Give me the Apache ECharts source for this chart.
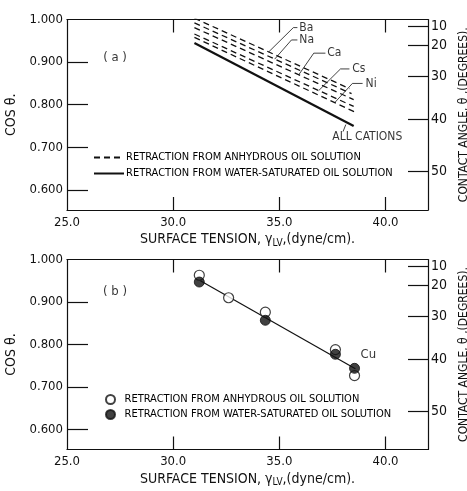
<!DOCTYPE html>
<html>
<head>
<meta charset="utf-8">
<script src="https://cdn.jsdelivr.net/npm/echarts@6/dist/echarts.min.js"></script>
<style>
html,body{margin:0;padding:0;background:#fff;}
#c{width:467px;height:491px;}
</style>
</head>
<body>
<div id="c"></div>
<script>
// ---------- data ----------
const xRange = [25, 42];
const yRange = [0.553, 1.0];
const xTickLabels = [25, 30, 35, 40];
const xTickMarks = [30, 35, 40];
const yTickLabels = [0.6, 0.7, 0.8, 0.9, 1.0];
const yTickMarks = [0.6, 0.7, 0.8, 0.9];
const angleTicks = [10, 20, 30, 40, 50];

// panel (a): dashed lines (anhydrous), one per cation: [x, cos]
const cations = ['Ba', 'Na', 'Ca', 'Cs', 'Ni'];
const lineBa = [[31.0, 1.003], [38.3, 0.838]];
const lineNa = [[31.0, 0.992], [38.4, 0.826]];
const lineCa = [[31.0, 0.981], [38.5, 0.812]];
const lineCs = [[31.0, 0.966], [38.5, 0.796]];
const lineNi = [[31.0, 0.958], [38.6, 0.782]];
// panel (a): solid line (water-saturated), all cations
const lineAll = [[31.0, 0.945], [38.5, 0.750]];

// annotation labels and leader lines, panel (a)
const labelPosA = [[35.94, 0.981], [35.94, 0.952], [37.25, 0.921], [38.43, 0.884], [39.06, 0.850]];
const leaderBa = [[35.85, 0.981], [35.66, 0.981], [34.50, 0.924]];
const leaderNa = [[35.85, 0.952], [35.57, 0.952], [34.78, 0.907]];
const leaderCa = [[37.17, 0.921], [36.62, 0.921], [35.91, 0.870]];
const leaderCs = [[38.30, 0.884], [37.88, 0.884], [36.85, 0.833]];
const leaderNi = [[38.92, 0.850], [38.44, 0.850], [37.61, 0.805]];
const allCationsPos = [39.14, 0.7235];
const leaderAll = [[38.00, 0.737], [38.13, 0.7535]];

// panel (b): Cu data
const cuAnhydrous = [[31.23, 0.963], [32.61, 0.910], [34.34, 0.876], [37.64, 0.788], [38.54, 0.727]];
const cuWater = [[31.23, 0.947], [34.34, 0.857], [37.64, 0.777], [38.54, 0.744]];
const cuFit = [[31.28, 0.950], [38.58, 0.743]];
const cuLabelPos = [38.82, 0.777];

const panelLabelA = [27.26, 0.910];
const panelLabelB = [27.26, 0.924];

const legendText = {
  aAnh: 'RETRACTION FROM ANHYDROUS OIL SOLUTION',
  aWat: 'RETRACTION FROM WATER-SATURATED OIL SOLUTION',
  bAnh: 'RETRACTION FROM ANHYDROUS OIL SOLUTION',
  bWat: 'RETRACTION FROM WATER-SATURATED OIL SOLUTION'
};

// ---------- chart ----------
const FONT = "'Liberation Sans Narrow','DejaVu Sans Condensed','Liberation Sans',sans-serif";
const INK = '#111';
const chart = echarts.init(document.getElementById('c'), null, {renderer: 'canvas'});

const grids = [
  {left: 67, right: 39, top: 19.5, height: 190.5, outerBoundsMode: 'none', containLabel: false},
  {left: 67, right: 39, top: 259.5, height: 190, outerBoundsMode: 'none', containLabel: false}
];

const xName = 'SURFACE TENSION, γ{sub|LV},(dyne/cm).';
function xAxes(g) {
  return [
    {
      gridIndex: g, type: 'value', position: 'bottom', min: xRange[0], max: xRange[1],
      axisLine: {show: true, onZero: false, lineStyle: {color: INK, width: 1.2}},
      axisTick: {show: true, inside: true, length: 13, customValues: xTickMarks, lineStyle: {color: INK, width: 1.2}},
      axisLabel: {show: true, customValues: xTickLabels, formatter: v => v.toFixed(1), margin: 6,
        color: INK, fontSize: 13, fontFamily: FONT},
      splitLine: {show: false},
      name: xName, nameLocation: 'middle', nameGap: 21,
      nameTextStyle: {color: INK, fontSize: 14, fontFamily: FONT,
        rich: {sub: {fontSize: 10, fontFamily: FONT, color: INK, padding: [7, 0, 0, 0]}}}
    },
    {
      gridIndex: g, type: 'value', position: 'top', min: xRange[0], max: xRange[1],
      axisLine: {show: true, onZero: false, lineStyle: {color: INK, width: 1.2}},
      axisTick: {show: true, inside: true, length: 13, customValues: xTickMarks, lineStyle: {color: INK, width: 1.2}},
      axisLabel: {show: false}, splitLine: {show: false}
    }
  ];
}
function yAxes(g) {
  const angleVals = angleTicks.map(a => Math.cos(a * Math.PI / 180));
  return [
    {
      gridIndex: g, type: 'value', position: 'left', min: yRange[0], max: yRange[1],
      axisLine: {show: true, onZero: false, lineStyle: {color: INK, width: 1.2}},
      axisTick: {show: true, inside: true, length: 21, customValues: yTickMarks, lineStyle: {color: INK, width: 1.2}},
      axisLabel: {show: true, customValues: yTickLabels, formatter: v => v.toFixed(3), margin: 4,
        color: INK, fontSize: 13, fontFamily: FONT},
      splitLine: {show: false},
      name: 'COS θ.', nameLocation: 'middle', nameGap: 31, nameRotate: 90,
      nameTextStyle: {color: INK, fontSize: 14, fontFamily: FONT}
    },
    {
      gridIndex: g, type: 'value', position: 'right', min: yRange[0], max: yRange[1],
      axisLine: {show: true, onZero: false, lineStyle: {color: INK, width: 1.2}},
      axisTick: {show: true, inside: true, length: 20, customValues: angleVals, lineStyle: {color: INK, width: 1.2}},
      axisLabel: {show: true, customValues: angleVals,
        formatter: v => String(Math.round(Math.acos(v) * 180 / Math.PI)), margin: 3,
        color: INK, fontSize: 14, fontFamily: FONT},
      splitLine: {show: false},
      name: 'CONTACT ANGLE, θ ,(DEGREES).', nameLocation: 'middle', nameGap: 20, nameRotate: 90,
      nameTextStyle: {color: INK, fontSize: 12, fontFamily: FONT}
    }
  ];
}

function lineSeries(name, data, xi, yi, style) {
  return Object.assign({
    name: name, type: 'line', data: data, xAxisIndex: xi, yAxisIndex: yi,
    symbol: 'none', silent: true, animation: false, itemStyle: {color: INK}
  }, style);
}
function textSeries(xi, yi, items) {
  return {
    type: 'scatter', xAxisIndex: xi, yAxisIndex: yi, silent: true, animation: false,
    symbolSize: 0, z: 5,
    data: items.map(it => ({
      value: it.pos, name: it.text,
      label: {show: true, formatter: it.text, position: it.align === 'left' ? 'right' : 'inside', distance: 0,
        color: '#000', fontSize: it.size || 12, fontFamily: FONT}
    }))
  };
}

const dashStyle = {lineStyle: {color: INK, width: 1.3, type: [6, 4]}};
const leaderStyle = {lineStyle: {color: INK, width: 0.8}};

const series = [
  lineSeries('aAnh', lineBa, 0, 0, dashStyle),
  lineSeries('Na', lineNa, 0, 0, dashStyle),
  lineSeries('Ca', lineCa, 0, 0, dashStyle),
  lineSeries('Cs', lineCs, 0, 0, dashStyle),
  lineSeries('Ni', lineNi, 0, 0, dashStyle),
  lineSeries('aWat', lineAll, 0, 0, {lineStyle: {color: INK, width: 2.2}}),
  lineSeries('lBa', leaderBa, 0, 0, leaderStyle),
  lineSeries('lNa', leaderNa, 0, 0, leaderStyle),
  lineSeries('lCa', leaderCa, 0, 0, leaderStyle),
  lineSeries('lCs', leaderCs, 0, 0, leaderStyle),
  lineSeries('lNi', leaderNi, 0, 0, leaderStyle),
  lineSeries('lAll', leaderAll, 0, 0, leaderStyle),
  textSeries(0, 0, cations.map((c, i) => ({pos: labelPosA[i], text: c, align: 'left', size: 12}))
    .concat([{pos: allCationsPos, text: 'ALL CATIONS', size: 12},
             {pos: panelLabelA, text: '( a )', size: 13}])),
  // panel b
  lineSeries('bFit', cuFit, 2, 2, {lineStyle: {color: INK, width: 1.2}}),
  {
    name: 'bAnh', type: 'scatter', xAxisIndex: 2, yAxisIndex: 2, data: cuAnhydrous,
    symbol: 'circle', symbolSize: 10, silent: true, animation: false, z: 3,
    itemStyle: {color: '#fff', borderColor: INK, borderWidth: 1.2}
  },
  {
    name: 'bWat', type: 'scatter', xAxisIndex: 2, yAxisIndex: 2, data: cuWater,
    symbol: 'circle', symbolSize: 10, silent: true, animation: false, z: 4,
    itemStyle: {color: INK, borderColor: INK, borderWidth: 1}
  },
  textSeries(2, 2, [{pos: cuLabelPos, text: 'Cu', align: 'left', size: 13},
                    {pos: panelLabelB, text: '( b )', size: 13}])
];

const legendCommon = {
  orient: 'vertical', selectedMode: false, padding: 0,
  formatter: n => legendText[n]
};

chart.setOption({
  backgroundColor: '#fff',
  animation: false,
  grid: grids,
  xAxis: xAxes(0).concat(xAxes(1)),
  yAxis: yAxes(0).concat(yAxes(1)),
  legend: [
    Object.assign({}, legendCommon, {left: 93, top: 152, itemWidth: 30, itemHeight: 10, itemGap: 5,
      itemStyle: {opacity: 0},
      textStyle: {color: '#000', fontSize: 11, fontFamily: FONT, padding: [0, 0, 0, -3]},
      data: ['aAnh', 'aWat']}),
    Object.assign({}, legendCommon, {left: 105, top: 394, itemWidth: 10, itemHeight: 9, itemGap: 4,
      textStyle: {color: '#000', fontSize: 11, fontFamily: FONT, padding: [0, 0, 0, 4]},
      data: ['bAnh', 'bWat']})
  ],
  series: series
});
</script>
</body>
</html>
